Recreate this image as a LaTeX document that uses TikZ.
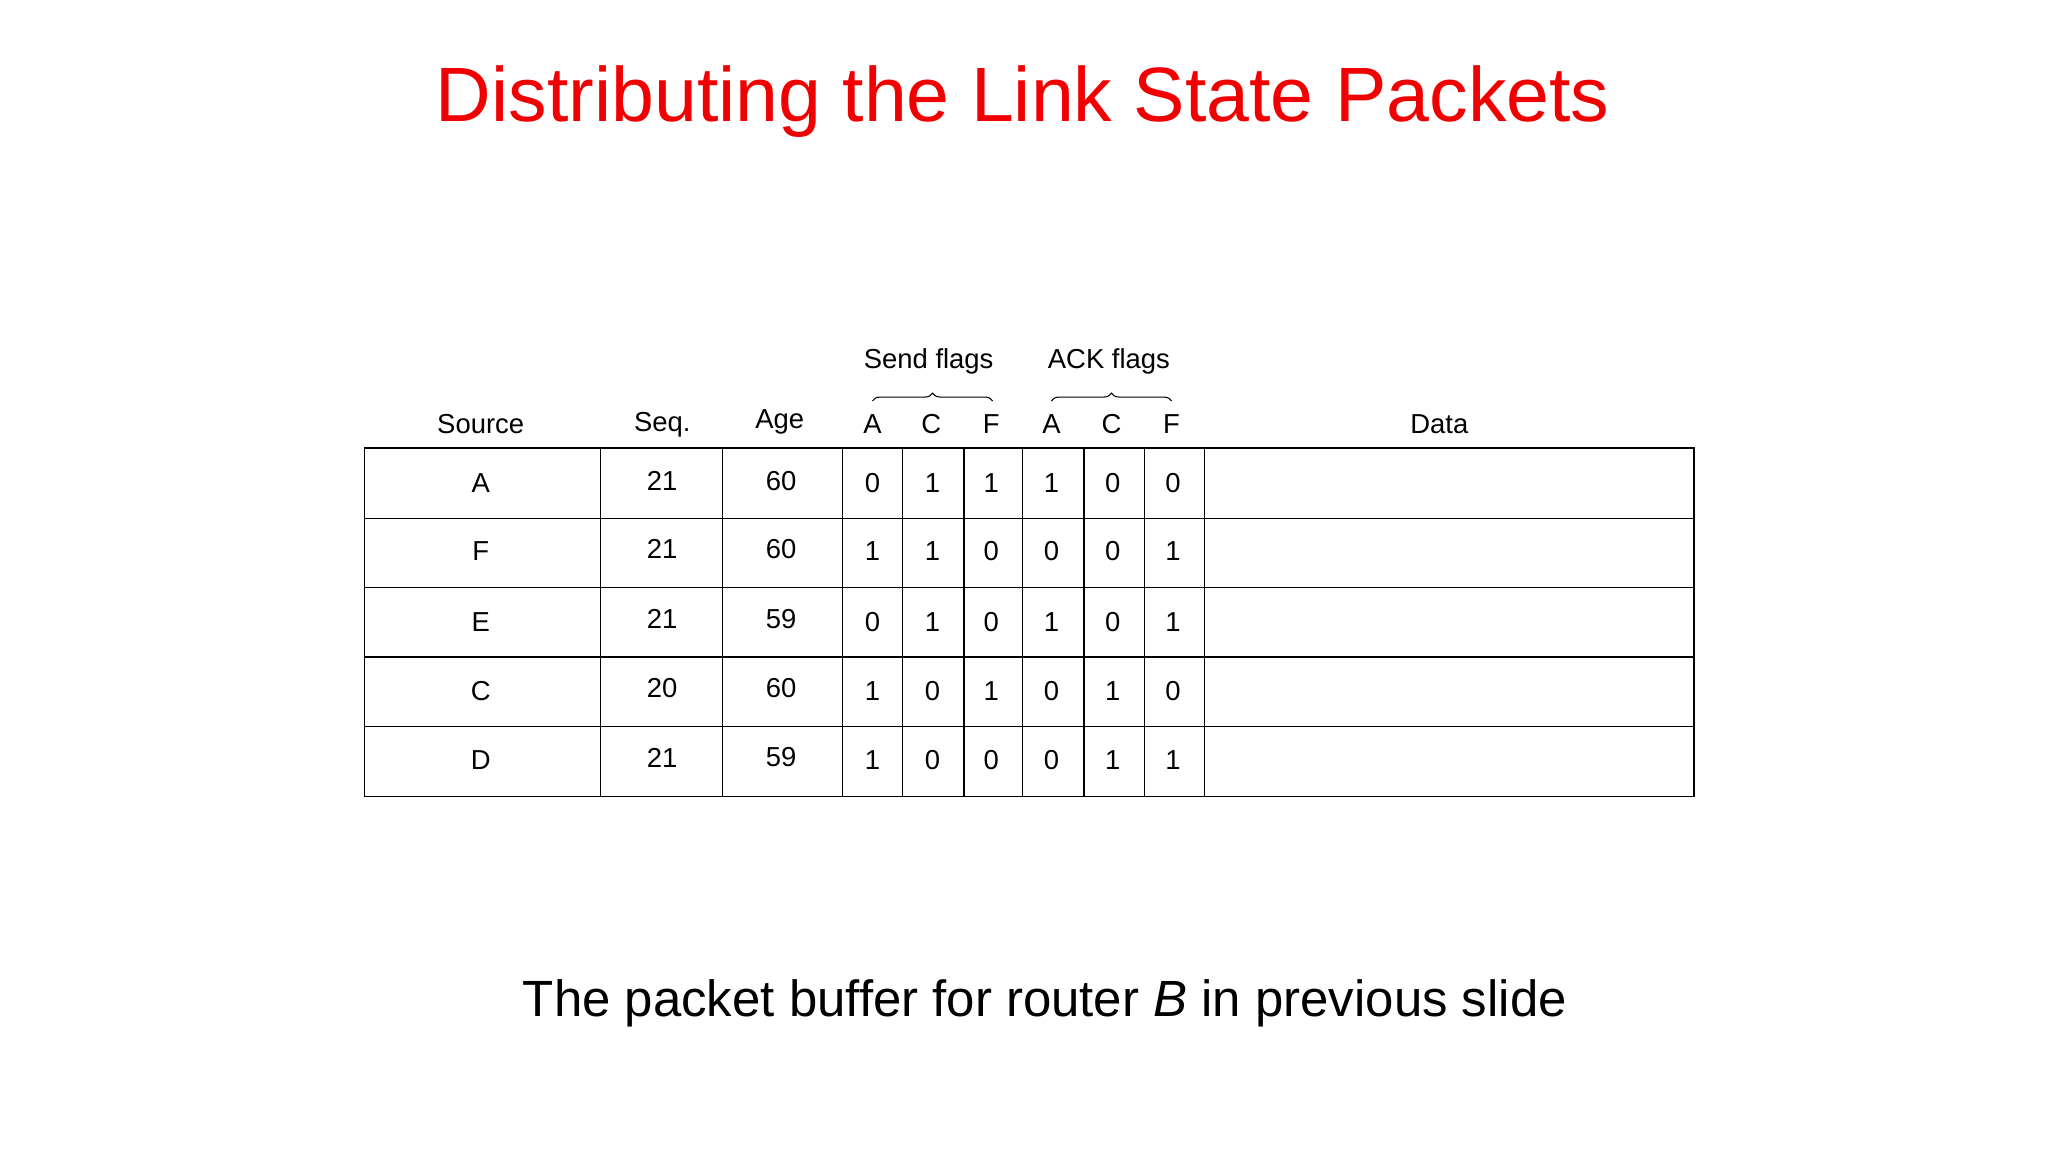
\documentclass[tikz,border=0pt]{standalone}
\usepackage{fontspec}
\setmainfont{Liberation Sans}
\usetikzlibrary{decorations.pathreplacing}
\definecolor{titlered}{RGB}{240,0,0}
\begin{document}
\begin{tikzpicture}[x=1pt,y=-1pt,
  cell/.style={font=\fontsize{21}{24}\selectfont},
  hdr/.style={font=\fontsize{21}{24}\selectfont},
  grid/.style={draw=black,line width=1pt}]
\useasboundingbox (0,0) rectangle (1568,882);
\node[text=titlered,font=\fontsize{59}{66}\selectfont] (title) at (783,78) {Distributing the Link State Packets};
\node[font=\fontsize{39}{44}\selectfont] (cap) at (800,768) {The packet buffer for router \textit{B} in previous slide};
% grid
\draw[grid] (279,343) rectangle (1297,610);
\foreach \y in {397,450,503,556} \draw[grid] (279,\y) -- (1297,\y);
\foreach \x in {460,553,645,691,738,783,830,876,922} \draw[grid] (\x,343) -- (\x,610);
% headers
\node[hdr] (hs) at (368,325) {Source};
\node[hdr] (hq) at (507,325) {Seq.};
\node[hdr] (ha) at (597,323) {Age};
\foreach \x/\t [count=\i] in {668/A,713/C,759/F,805/A,851/C,897/F} \node[hdr] (f\i) at (\x,325) {\t};
\node[hdr] (hd) at (1102,325) {Data};
\draw[line width=0.8pt,decorate,decoration={brace,amplitude=6pt}] (668,307) -- (760,307) coordinate[midway] (b1);
\draw[line width=0.8pt,decorate,decoration={brace,amplitude=6pt}] (805,307) -- (897,307) coordinate[midway] (b2);
\node[hdr] (sf) at (711,277) {Send flags};
\node[hdr] (af) at (849,277) {ACK flags};
% rows
\foreach \y/\s/\q/\a/\fa/\fb/\fc/\ga/\gb/\gc [count=\r] in {
 370/A/21/60/0/1/1/1/0/0,
 422/F/21/60/1/1/0/0/0/1,
 476/E/21/59/0/1/0/1/0/1,
 529/C/20/60/1/0/1/0/1/0,
 582/D/21/59/1/0/0/0/1/1}{
 \node[cell] (s\r) at (368,\y) {\s};
 \node[cell] (q\r) at (507,\y-2) {\q};
 \node[cell] (a\r) at (598,\y-2) {\a};
 \node[cell] (c1\r) at (668,\y) {\fa};
 \node[cell] (c2\r) at (714,\y) {\fb};
 \node[cell] (c3\r) at (759,\y) {\fc};
 \node[cell] (c4\r) at (805,\y) {\ga};
 \node[cell] (c5\r) at (852,\y) {\gb};
 \node[cell] (c6\r) at (898,\y) {\gc};
}
\end{tikzpicture}
\end{document}
